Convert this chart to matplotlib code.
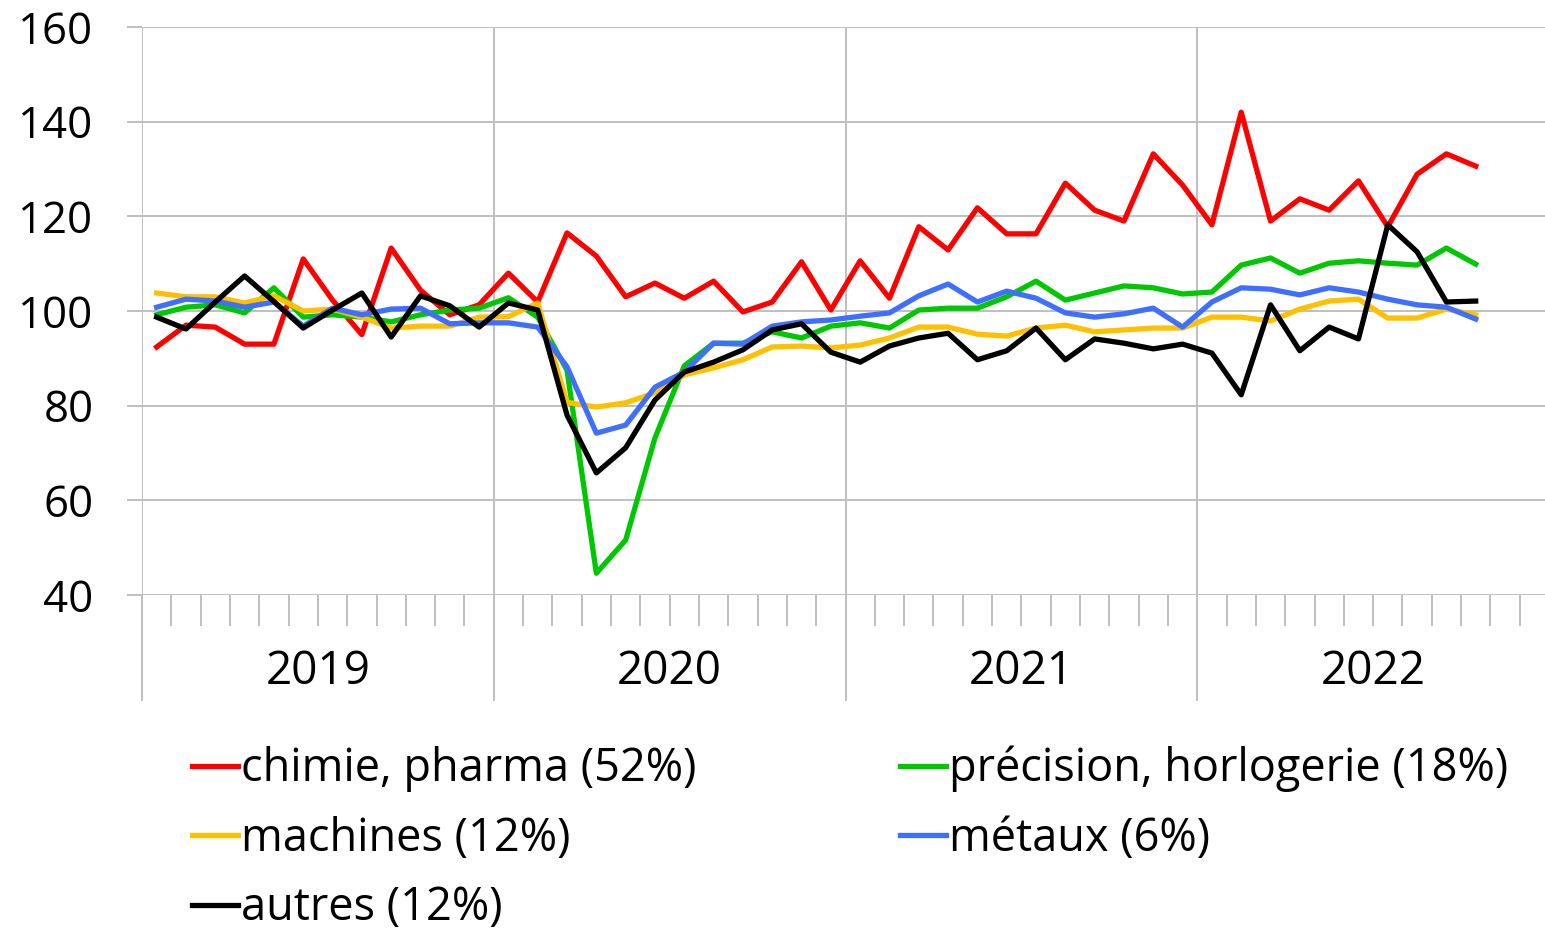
import numpy as np
import matplotlib
matplotlib.use("Agg")
import matplotlib.pyplot as plt
from matplotlib.ticker import MultipleLocator, FixedLocator

# monthly index values, Jan 2019 - Oct 2022
chimie = [92.4, 97.0, 96.6, 93.0, 93.0, 111.0, 102.3, 95.0, 113.3, 104.4, 99.2, 101.3,
          108.0, 101.9, 116.5, 111.6, 103.0, 105.9, 102.7, 106.3, 99.8, 101.9, 110.4, 100.2,
          110.6, 102.7, 117.8, 112.9, 121.8, 116.3, 116.3, 127.0, 121.3, 119.0, 133.2, 126.6,
          118.2, 142.0, 119.0, 123.7, 121.3, 127.5, 117.8, 128.9, 133.2, 130.6]
precision = [99.2, 100.8, 101.3, 99.6, 104.9, 98.7, 99.2, 98.7, 97.7, 99.2, 100.2, 100.6,
             102.8, 98.7, 87.5, 44.6, 51.6, 73.2, 88.4, 93.2, 93.2, 95.6, 94.3, 96.8,
             97.5, 96.4, 100.2, 100.6, 100.6, 103.0, 106.3, 102.3, 103.8, 105.3, 104.9, 103.6,
             104.0, 109.7, 111.2, 108.0, 110.1, 110.6, 110.1, 109.7, 113.3, 109.9]
machines = [103.8, 103.0, 103.0, 101.7, 103.2, 100.0, 100.4, 98.7, 96.4, 96.8, 96.8, 98.7,
            98.8, 101.7, 80.7, 79.7, 80.6, 82.7, 86.5, 88.0, 89.7, 92.4, 92.6, 92.2,
            92.8, 94.3, 96.6, 96.6, 95.1, 94.7, 96.4, 97.0, 95.6, 96.0, 96.4, 96.4,
            98.7, 98.7, 97.9, 100.4, 102.1, 102.5, 98.5, 98.5, 100.4, 99.2]
metaux = [100.8, 102.5, 102.1, 100.8, 101.9, 96.8, 100.6, 99.2, 100.4, 100.6, 97.3, 97.5,
          97.5, 96.6, 88.2, 74.2, 75.9, 83.9, 87.1, 93.2, 93.0, 96.8, 97.7, 98.1,
          98.9, 99.6, 103.2, 105.7, 101.9, 104.2, 102.7, 99.6, 98.7, 99.4, 100.6, 96.6,
          101.9, 104.9, 104.6, 103.4, 104.9, 104.0, 102.5, 101.3, 100.8, 98.3]
autres = [98.7, 96.2, 101.9, 107.4, 102.0, 96.4, 100.2, 103.8, 94.5, 103.2, 101.1, 96.6,
          101.7, 100.2, 78.0, 65.8, 71.1, 81.2, 87.1, 89.2, 91.8, 96.0, 97.3, 91.3,
          89.2, 92.6, 94.3, 95.3, 89.7, 91.6, 96.4, 89.7, 94.1, 93.2, 92.0, 93.0,
          91.1, 82.3, 101.3, 91.6, 96.6, 94.1, 118.2, 112.5, 101.9, 102.1]

years = ["2019", "2020", "2021", "2022"]
labels = ["chimie, pharma (52%)", "précision, horlogerie (18%)", "machines (12%)",
          "métaux (6%)", "autres (12%)"]
colors = ["#FF0000", "#00C800", "#FFC000", "#3F6FFF", "#000000"]

plt.rcParams["font.family"] = ["Open Sans", "DejaVu Sans"]
grid_c = "#BFBFBF"

fig = plt.figure(figsize=(15.45, 9.32), dpi=100)
ax = fig.add_axes([142 / 1545, 1 - 595 / 932, 1407 / 1545, 568 / 932])

x = np.arange(len(chimie)) + 0.5
series = [chimie, precision, machines, metaux, autres]
lines = []
for vals, lab, col in zip(series, labels, colors):
    ln, = ax.plot(x, vals, color=col, lw=3.8, label=lab)
    lines.append(ln)

ax.set_xlim(0, 48)
ax.set_ylim(40, 160)
ax.yaxis.set_major_locator(MultipleLocator(20))
ax.xaxis.set_major_locator(FixedLocator([0, 12, 24, 36, 48]))
ax.xaxis.set_minor_locator(FixedLocator([m for m in range(1, 48) if m % 12]))
ax.set_xticklabels([])

for s in ax.spines.values():
    s.set_visible(False)
ax.grid(True, which="major", color=grid_c, lw=1.4)
ax.set_axisbelow(True)
ax.tick_params(axis="y", length=11, width=1.4, color=grid_c, pad=24, labelsize=31.5)
ax.tick_params(axis="x", which="major", length=76, width=1.4, color=grid_c)
ax.tick_params(axis="x", which="minor", length=22, width=1.4, color=grid_c)

for k, yr in enumerate(years):
    ax.text(6 + 12 * k, -0.1356, yr, transform=ax.get_xaxis_transform(),
            ha="center", va="center", fontsize=33)

order = [0, 2, 4, 1, 3]
fig.legend([lines[i] for i in order], [labels[i] for i in order],
           loc="upper left", bbox_to_anchor=(192 / 1545, 1 - 746 / 932),
           ncol=2, frameon=False, fontsize=32.5, borderpad=0, borderaxespad=0,
           handlelength=1.02, handletextpad=0.07, labelspacing=0.52, columnspacing=4.5)

fig.savefig("out.png", dpi=100)
